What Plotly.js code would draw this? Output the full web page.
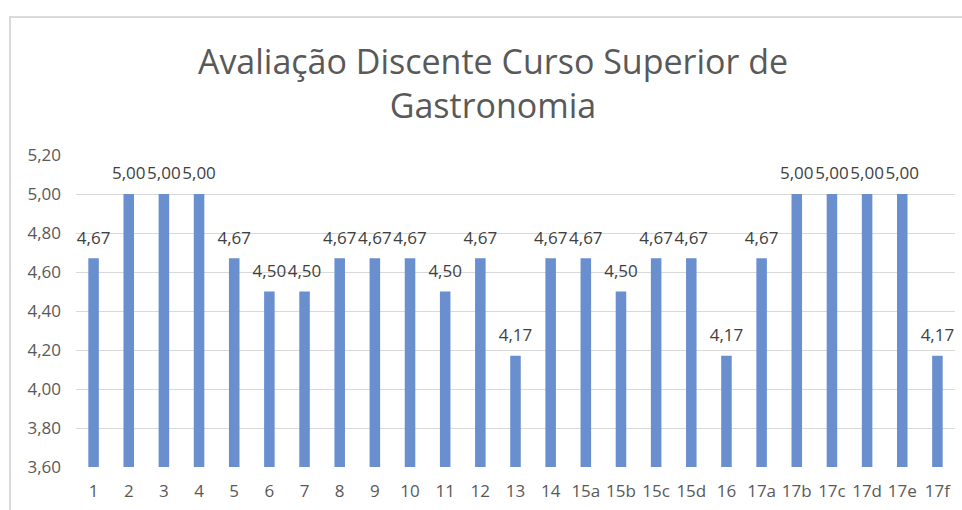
<!DOCTYPE html>
<html>
<head>
<meta charset="utf-8">
<script src="https://cdn.plot.ly/plotly-3.0.1.min.js"></script>
<style>
html,body{margin:0;padding:0;background:#fff;}
#wrap{position:relative;width:962px;height:510px;overflow:hidden;}
#chart{width:962px;height:510px;}
#frame{position:absolute;left:9px;top:16px;width:1000px;height:600px;border-left:2px solid #d9d9d9;border-top:2px solid #d9d9d9;pointer-events:none;}
</style>
</head>
<body>
<div id="wrap"><div id="chart"></div><div id="frame"></div></div>
<script>
const categories = ["1","2","3","4","5","6","7","8","9","10","11","12","13","14","15a","15b","15c","15d","16","17a","17b","17c","17d","17e","17f"];
const values = [4.67,5.00,5.00,5.00,4.67,4.50,4.50,4.67,4.67,4.67,4.50,4.67,4.17,4.67,4.67,4.50,4.67,4.67,4.17,4.67,5.00,5.00,5.00,5.00,4.17];
const yTicks = [3.6,3.8,4.0,4.2,4.4,4.6,4.8,5.0,5.2];
const titleText = "Avaliação Discente Curso Superior de<br>Gastronomia";

const font = "'Open Sans', 'Noto Sans', sans-serif";

const bars = {
  type: 'bar',
  x: categories,
  y: values,
  width: 0.3,
  marker: {color: '#6a8fcf'},
  hoverinfo: 'x+y'
};
const labels = {
  type: 'scatter',
  mode: 'markers+text',
  x: categories,
  y: values,
  text: values.map(v => v.toFixed(2).replace('.', ',')),
  textposition: 'top center',
  textfont: {family: font, size: 17, color: '#404040'},
  marker: {size: 15, opacity: 0},
  cliponaxis: false,
  hoverinfo: 'skip'
};

const layout = {
  width: 962, height: 510,
  margin: {l: 76, r: 7, t: 155, b: 43},
  paper_bgcolor: '#ffffff',
  plot_bgcolor: '#ffffff',
  separators: ',.',
  showlegend: false,
  font: {family: font, color: '#595959'},
  title: {
    text: titleText,
    font: {family: font, size: 34, color: '#595959'},
    x: 493/962, xref: 'container', xanchor: 'center',
    y: 1 - 74/510, yref: 'container', yanchor: 'top'
  },
  xaxis: {
    type: 'category',
    range: [-0.5, categories.length - 0.5],
    showgrid: false,
    zeroline: false,
    showline: false,
    ticks: '',
    ticklabelstandoff: 12,
    tickfont: {family: font, size: 17, color: '#595959'},
    fixedrange: true
  },
  yaxis: {
    range: [3.6, 5.2],
    tickvals: yTicks,
    tickformat: '.2f',
    showgrid: true,
    gridcolor: '#d9d9d9',
    gridwidth: 1,
    zeroline: false,
    showline: false,
    ticks: '',
    ticklabelstandoff: 14,
    tickfont: {family: font, size: 17, color: '#595959'},
    fixedrange: true
  }
};

Plotly.newPlot('chart', [bars, labels], layout, {displayModeBar: false, staticPlot: true});
</script>
</body>
</html>
